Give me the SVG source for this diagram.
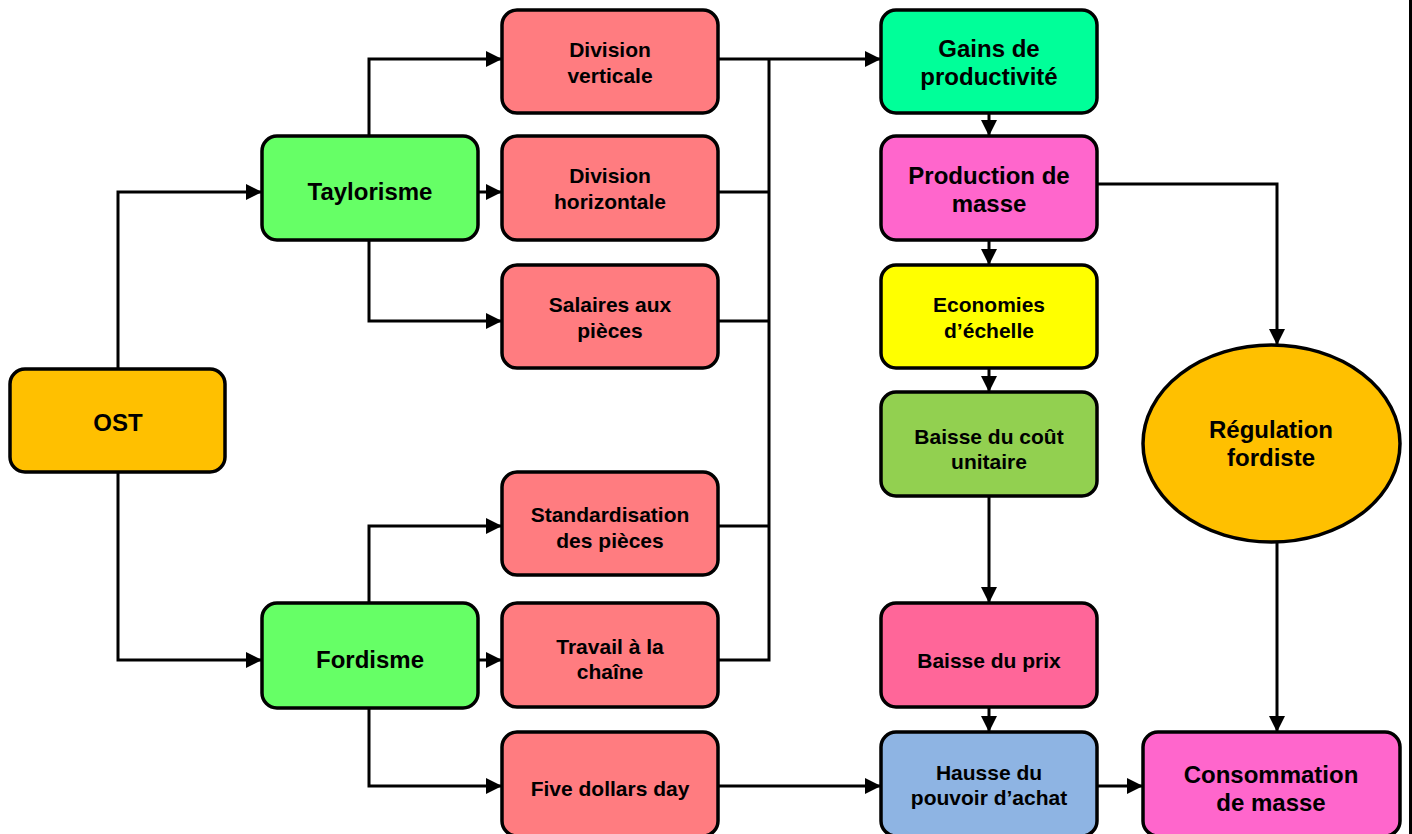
<svg xmlns="http://www.w3.org/2000/svg" width="1412" height="834" viewBox="0 0 1412 834">
<defs>
<style>
.b{stroke:#000;stroke-width:3.5}
.t{font-family:"Liberation Sans",Arial,sans-serif;font-weight:bold;fill:#000;text-anchor:middle}
.s21{font-size:21px}
.s24{font-size:24px}
.c{fill:none;stroke:#000;stroke-width:3}
</style>
<marker id="ah" viewBox="0 0 16 16" refX="16" refY="8" markerWidth="16" markerHeight="16" markerUnits="userSpaceOnUse" orient="auto">
<path d="M0,0 L16,8 L0,16 Z" fill="#000"/>
</marker>
</defs>
<rect width="1412" height="834" fill="#fff"/>
<rect x="1409" y="0" width="3" height="834" fill="#000"/>

<g id="connectors">
<path class="c" d="M118,369 V192 H262" marker-end="url(#ah)"/>
<path class="c" d="M118,472 V660 H262" marker-end="url(#ah)"/>
<path class="c" d="M369,136 V59 H502" marker-end="url(#ah)"/>
<path class="c" d="M478,192 H502" marker-end="url(#ah)"/>
<path class="c" d="M369,240 V321 H502" marker-end="url(#ah)"/>
<path class="c" d="M369,603 V526 H502" marker-end="url(#ah)"/>
<path class="c" d="M478,660 H502" marker-end="url(#ah)"/>
<path class="c" d="M369,708 V786 H502" marker-end="url(#ah)"/>
<path class="c" d="M718,59 H881" marker-end="url(#ah)"/>
<path class="c" d="M718,192 H769 M718,321 H769 M718,526 H769 M718,660 H769 M769,59 V661.5"/>
<path class="c" d="M718,786 H881" marker-end="url(#ah)"/>
<path class="c" d="M989,113 V136" marker-end="url(#ah)"/>
<path class="c" d="M989,240 V265" marker-end="url(#ah)"/>
<path class="c" d="M989,368 V392" marker-end="url(#ah)"/>
<path class="c" d="M989,496 V603" marker-end="url(#ah)"/>
<path class="c" d="M989,707 V732" marker-end="url(#ah)"/>
<path class="c" d="M1097,786 H1143" marker-end="url(#ah)"/>
<path class="c" d="M1097,184 H1277 V345" marker-end="url(#ah)"/>
<path class="c" d="M1277,542 V732" marker-end="url(#ah)"/>
</g>

<g id="ost"><rect class="b" x="10" y="369" width="215" height="103" rx="15" fill="#FFC000"/><text class="t s24" x="118" y="431">OST</text></g>
<g id="taylorisme"><rect class="b" x="262" y="136" width="216" height="104" rx="15" fill="#66FF66"/><text class="t s24" x="370" y="200">Taylorisme</text></g>
<g id="fordisme"><rect class="b" x="262" y="603" width="216" height="105" rx="15" fill="#66FF66"/><text class="t s24" x="370" y="667.5">Fordisme</text></g>

<g id="div-verticale"><rect class="b" x="502" y="10" width="216" height="103" rx="15" fill="#FF7C80"/><text class="t s21" x="610" y="56.5">Division</text><text class="t s21" x="610" y="82.5">verticale</text></g>
<g id="div-horizontale"><rect class="b" x="502" y="136" width="216" height="104" rx="15" fill="#FF7C80"/><text class="t s21" x="610" y="182.5">Division</text><text class="t s21" x="610" y="208.5">horizontale</text></g>
<g id="salaires"><rect class="b" x="502" y="265" width="216" height="103" rx="15" fill="#FF7C80"/><text class="t s21" x="610" y="311.5">Salaires aux</text><text class="t s21" x="610" y="337.5">pièces</text></g>
<g id="standardisation"><rect class="b" x="502" y="472" width="216" height="103" rx="15" fill="#FF7C80"/><text class="t s21" x="610" y="521.5">Standardisation</text><text class="t s21" x="610" y="547.5">des pièces</text></g>
<g id="travail"><rect class="b" x="502" y="603" width="216" height="104" rx="15" fill="#FF7C80"/><text class="t s21" x="610" y="653.5">Travail à la</text><text class="t s21" x="610" y="678.5">chaîne</text></g>
<g id="five-dollars"><rect class="b" x="502" y="732" width="216" height="104" rx="15" fill="#FF7C80"/><text class="t s21" x="610" y="795.5">Five dollars day</text></g>

<g id="gains"><rect class="b" x="881" y="10" width="216" height="103" rx="15" fill="#00FF99"/><text class="t s24" x="989" y="56.5">Gains de</text><text class="t s24" x="989" y="85">productivité</text></g>
<g id="production"><rect class="b" x="881" y="136" width="216" height="104" rx="15" fill="#FF66CC"/><text class="t s24" x="989" y="183.5">Production de</text><text class="t s24" x="989" y="212">masse</text></g>
<g id="economies"><rect class="b" x="881" y="265" width="216" height="103" rx="15" fill="#FFFF00"/><text class="t s21" x="989" y="311.5">Economies</text><text class="t s21" x="989" y="337.5">d’échelle</text></g>
<g id="baisse-cout"><rect class="b" x="881" y="392" width="216" height="104" rx="15" fill="#92D050"/><text class="t s21" x="989" y="443.5">Baisse du coût</text><text class="t s21" x="989" y="468.5">unitaire</text></g>
<g id="baisse-prix"><rect class="b" x="881" y="603" width="216" height="104" rx="15" fill="#FF6699"/><text class="t s21" x="989" y="667.5">Baisse du prix</text></g>
<g id="hausse"><rect class="b" x="881" y="732" width="216" height="104" rx="15" fill="#8EB4E3"/><text class="t s21" x="989" y="779.5">Hausse du</text><text class="t s21" x="989" y="804.5">pouvoir d’achat</text></g>

<g id="regulation"><ellipse class="b" cx="1271.5" cy="443.5" rx="128.5" ry="98.5" fill="#FFC000"/><text class="t s24" x="1271" y="438">Régulation</text><text class="t s24" x="1271" y="466">fordiste</text></g>
<g id="consommation"><rect class="b" x="1143" y="732" width="257" height="104" rx="15" fill="#FF66CC"/><text class="t s24" x="1271" y="782.5">Consommation</text><text class="t s24" x="1271" y="811">de masse</text></g>
</svg>
